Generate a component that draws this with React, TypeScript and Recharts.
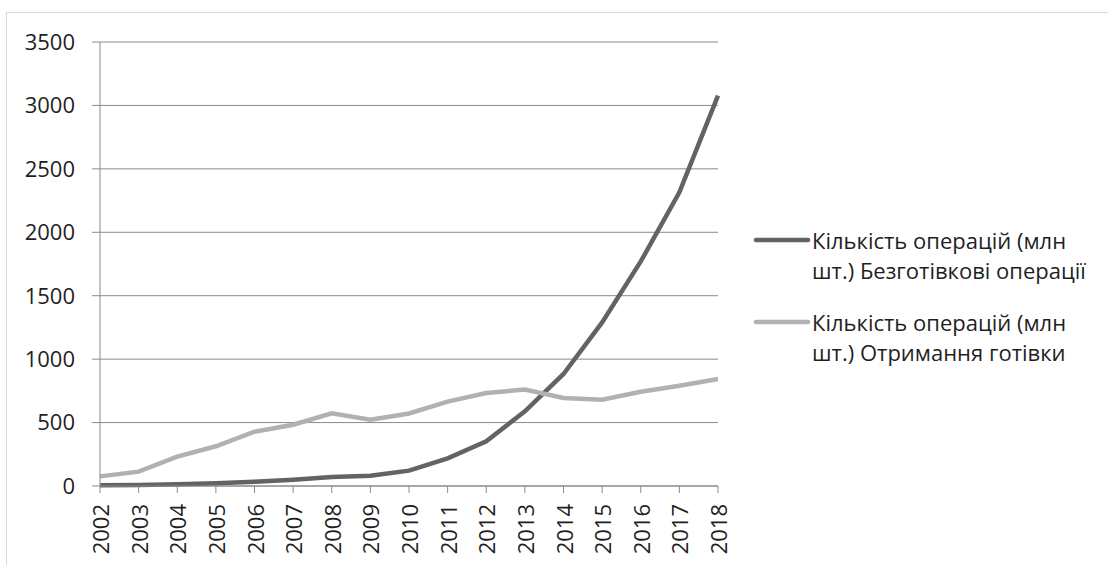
import React from "react";
import { LineChart, Line, XAxis, YAxis, CartesianGrid, Legend } from "recharts";

const YEARS = [
  "2002", "2003", "2004", "2005", "2006", "2007", "2008", "2009", "2010",
  "2011", "2012", "2013", "2014", "2015", "2016", "2017", "2018",
];
const CASHLESS = [5, 8, 13, 21, 34, 50, 71, 81, 121, 218, 352, 589, 883, 1290, 1770, 2315, 3077];
const CASH = [76, 113, 231, 313, 428, 483, 573, 523, 572, 665, 733, 760, 694, 680, 743, 791, 843];
const Y_TICKS = [0, 500, 1000, 1500, 2000, 2500, 3000, 3500];

const NAME_CASHLESS = "Кількість операцій (млн шт.) Безготівкові операції";
const NAME_CASH = "Кількість операцій (млн шт.) Отримання готівки";

const DARK = "#636363";
const LIGHT = "#b1b1b1";
const GRID = "#8a8a8a";
const TEXT = "#1f1f1f";
const FONT = "'Open Sans', sans-serif";
const FONT_SIZE = 22;

const data = YEARS.map((year, i) => ({
  year,
  cashless: CASHLESS[i],
  cash: CASH[i],
}));

function YearTick({ x, y, payload }: any) {
  return (
    <text
      x={x}
      y={y}
      transform={`rotate(-90, ${x}, ${y})`}
      textAnchor="end"
      dominantBaseline="central"
      fill={TEXT}
      fontSize={FONT_SIZE}
      fontFamily={FONT}
    >
      {payload.value}
    </text>
  );
}

function LegendBox({ payload }: any) {
  return (
    <div style={{ fontFamily: FONT, fontSize: FONT_SIZE, color: TEXT }}>
      {(payload || []).map((item: any) => (
        <div
          key={item.value}
          style={{ display: "flex", alignItems: "flex-start", marginBottom: 22 }}
        >
          <svg width={62} height={30} style={{ flex: "none" }}>
            <line x1={6} y1={15} x2={58} y2={15} stroke={item.color} strokeWidth={4.5} strokeLinecap="round" />
          </svg>
          <div style={{ width: 290, lineHeight: "30px" }}>{item.value}</div>
        </div>
      ))}
    </div>
  );
}

export default function App() {
  return (
    <div
      style={{
        position: "fixed",
        left: 0,
        top: 0,
        width: 1108,
        height: 565,
        overflow: "hidden",
        background: "#fff",
      }}
    >
      <div
        style={{
          position: "absolute",
          left: 6,
          top: 12,
          width: 1120,
          height: 580,
          border: "1px solid #d9d9d9",
        }}
      />
      <div style={{ position: "absolute", left: 0, top: 0 }}>
        <LineChart
          width={1108}
          height={565}
          data={data}
          margin={{ top: 42, right: 390, bottom: 0, left: 0 }}
        >
          <CartesianGrid vertical={false} stroke={GRID} strokeWidth={1} />
          <XAxis
            dataKey="year"
            height={79}
            stroke={GRID}
            tickSize={7}
            tickMargin={11}
            tick={<YearTick />}
            interval={0}
          />
          <YAxis
            width={100}
            domain={[0, 3500]}
            ticks={Y_TICKS}
            stroke={GRID}
            tickSize={8}
            tickMargin={17}
            tick={{ fill: TEXT, fontSize: FONT_SIZE, fontFamily: FONT }}
          />
          <Legend
            layout="vertical"
            align="center"
            verticalAlign="middle"
            wrapperStyle={{ left: 750, top: 225, width: 358 }}
            content={<LegendBox />}
          />
          <Line
            type="linear"
            dataKey="cashless"
            name={NAME_CASHLESS}
            stroke={DARK}
            strokeWidth={4.5}
            dot={false}
            activeDot={false}
            isAnimationActive={false}
          />
          <Line
            type="linear"
            dataKey="cash"
            name={NAME_CASH}
            stroke={LIGHT}
            strokeWidth={4.5}
            dot={false}
            activeDot={false}
            isAnimationActive={false}
          />
        </LineChart>
      </div>
    </div>
  );
}
